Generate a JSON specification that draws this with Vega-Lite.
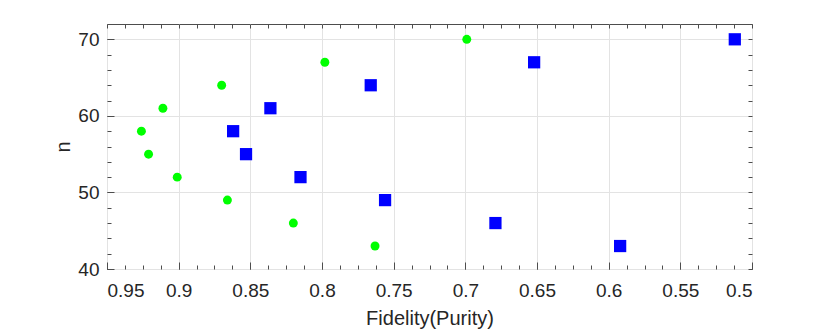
{
  "$schema": "https://vega.github.io/schema/vega-lite/v6.json",
  "autosize": "none",
  "width": 645,
  "height": 245,
  "padding": {"left": 107, "top": 24, "right": 78, "bottom": 63},
  "background": "white",
  "config": {
    "font": "Liberation Sans",
    "view": {"stroke": "#4d4d4d", "strokeWidth": 1},
    "axis": {
      "labelFont": "Liberation Sans",
      "titleFont": "Liberation Sans",
      "labelColor": "#262626",
      "titleColor": "#262626",
      "labelFontSize": 19,
      "titleFontSize": 20,
      "titleFontWeight": "normal",
      "tickColor": "#4d4d4d",
      "domain": false,
      "gridColor": "#e3e3e3",
      "gridWidth": 1
    }
  },
  "data": {
    "values": [
      {"fid": 0.926, "n": 58, "series": "A"},
      {"fid": 0.921, "n": 55, "series": "A"},
      {"fid": 0.911, "n": 61, "series": "A"},
      {"fid": 0.901, "n": 52, "series": "A"},
      {"fid": 0.870, "n": 64, "series": "A"},
      {"fid": 0.866, "n": 49, "series": "A"},
      {"fid": 0.820, "n": 46, "series": "A"},
      {"fid": 0.798, "n": 67, "series": "A"},
      {"fid": 0.699, "n": 70, "series": "A"},
      {"fid": 0.763, "n": 43, "series": "A"},
      {"fid": 0.862, "n": 58, "series": "B"},
      {"fid": 0.853, "n": 55, "series": "B"},
      {"fid": 0.836, "n": 61, "series": "B"},
      {"fid": 0.815, "n": 52, "series": "B"},
      {"fid": 0.766, "n": 64, "series": "B"},
      {"fid": 0.756, "n": 49, "series": "B"},
      {"fid": 0.679, "n": 46, "series": "B"},
      {"fid": 0.652, "n": 67, "series": "B"},
      {"fid": 0.592, "n": 43, "series": "B"},
      {"fid": 0.512, "n": 70, "series": "B"}
    ]
  },
  "resolve": {"axis": {"x": "independent", "y": "independent"}},
  "layer": [
    {
      "mark": {"type": "point", "opacity": 0},
      "encoding": {
        "x": {"field": "fid", "type": "quantitative",
          "scale": {"domain": [0.5, 0.95], "reverse": true, "zero": false, "nice": false},
          "axis": {"orient": "bottom", "values": [0.5,0.5125,0.525,0.5375,0.55,0.5625,0.575,0.5875,0.6,0.6125,0.625,0.6375,0.65,0.6625,0.675,0.6875,0.7,0.7125,0.725,0.7375,0.75,0.7625,0.775,0.7875,0.8,0.8125,0.825,0.8375,0.85,0.8625,0.875,0.8875,0.9,0.9125,0.925,0.9375,0.95], "labels": false, "grid": false, "tickSize": -4, "title": null}},
        "y": {"field": "n", "type": "quantitative",
          "scale": {"domain": [40, 72], "zero": false, "nice": false},
          "axis": {"orient": "left", "values": [40,42,44,46,48,50,52,54,56,58,60,62,64,66,68,70,72], "labels": false, "grid": false, "tickSize": -4, "title": null}}
      }
    },
    {
      "mark": {"type": "point", "opacity": 0},
      "encoding": {
        "x": {"field": "fid", "type": "quantitative",
          "axis": {"orient": "top", "values": [0.5,0.5125,0.525,0.5375,0.55,0.5625,0.575,0.5875,0.6,0.6125,0.625,0.6375,0.65,0.6625,0.675,0.6875,0.7,0.7125,0.725,0.7375,0.75,0.7625,0.775,0.7875,0.8,0.8125,0.825,0.8375,0.85,0.8625,0.875,0.8875,0.9,0.9125,0.925,0.9375,0.95], "labels": false, "grid": false, "tickSize": -4, "title": null}},
        "y": {"field": "n", "type": "quantitative",
          "axis": {"orient": "right", "values": [40,42,44,46,48,50,52,54,56,58,60,62,64,66,68,70,72], "labels": false, "grid": false, "tickSize": -4, "title": null}}
      }
    },
    {
      "mark": {"type": "point", "filled": true, "opacity": 1},
      "encoding": {
        "x": {"field": "fid", "type": "quantitative",
          "axis": {"orient": "bottom", "values": [0.5,0.55,0.6,0.65,0.7,0.75,0.8,0.85,0.9,0.95], "format": "~g", "grid": true, "tickSize": -7, "labelPadding": 19, "title": "Fidelity(Purity)", "titlePadding": 8}},
        "y": {"field": "n", "type": "quantitative",
          "axis": {"orient": "left", "values": [40,50,60,70], "grid": true, "tickSize": -7, "labelPadding": 15, "title": "n", "titlePadding": 4}},
        "shape": {"field": "series", "type": "nominal", "scale": {"domain": ["A", "B"], "range": ["circle", "square"]}, "legend": null},
        "color": {"field": "series", "type": "nominal", "scale": {"domain": ["A", "B"], "range": ["#00ff00", "#0000ff"]}, "legend": null},
        "size": {"field": "series", "type": "nominal", "scale": {"domain": ["A", "B"], "range": [80, 150]}, "legend": null}
      }
    }
  ]
}
